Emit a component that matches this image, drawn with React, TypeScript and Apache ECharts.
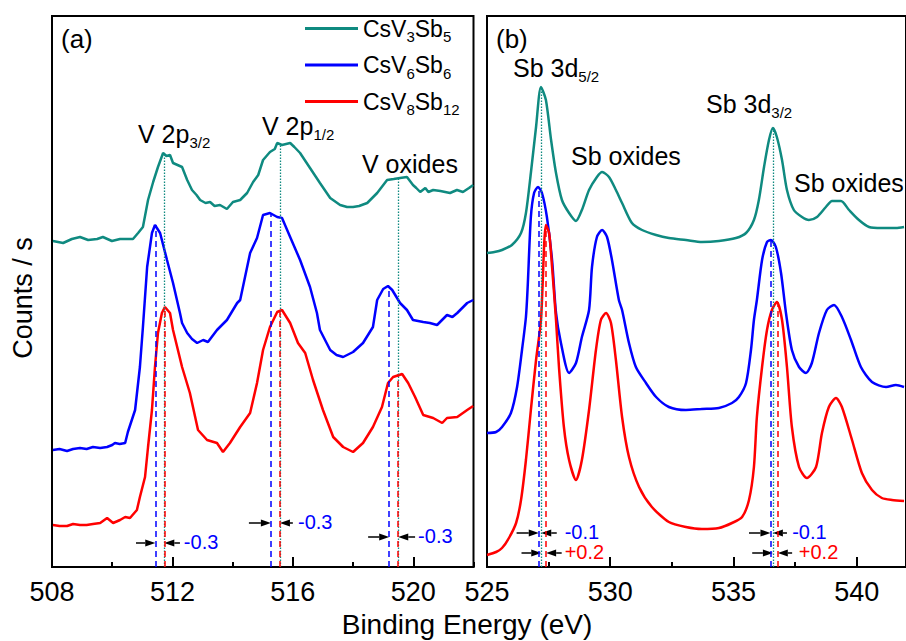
import React, { useEffect, useRef } from 'react';
import * as echarts from 'echarts';

const FONT = '"Liberation Sans", Arial, Helvetica, sans-serif';
const TEAL = '#0f8a80';
const BLUE = '#0000ff';
const RED = '#ff0000';

const SERIES_NAMES = ['CsV3Sb5', 'CsV6Sb6', 'CsV8Sb12'];
const SERIES_COLORS = [TEAL, BLUE, RED];

// Panel (a): V 2p region, [binding energy (eV), counts (arb.)]
const aTeal: number[][] = [
  [508.03, 326], [508.37, 324], [508.66, 328], [508.93, 330], [509.2, 327], [509.5, 328], [509.69, 330], [509.99, 326],
  [510.26, 328], [510.49, 328], [510.69, 328], [510.86, 334], [511.02, 340], [511.19, 367], [511.36, 385], [511.52, 400],
  [511.69, 414], [511.8, 411], [511.92, 412], [512.02, 404], [512.32, 400], [512.49, 387], [512.65, 377], [512.8, 372],
  [512.92, 367], [513.1, 364], [513.25, 365], [513.4, 361], [513.58, 362], [513.81, 358], [514.01, 365], [514.25, 367],
  [514.48, 374], [514.68, 385], [514.85, 392], [515.01, 407], [515.24, 415], [515.4, 418], [515.48, 424], [515.64, 422],
  [515.91, 424], [516.05, 420], [516.24, 414], [516.57, 399], [516.9, 384], [517.24, 369], [517.57, 362], [517.8, 360],
  [518.0, 360], [518.2, 361], [518.47, 364], [518.8, 374], [519.13, 387], [519.35, 388], [519.56, 389], [519.79, 390],
  [519.99, 382], [520.1, 379], [520.23, 375], [520.4, 379], [520.5, 375], [520.66, 377], [520.9, 376], [521.22, 374],
  [521.45, 377], [521.65, 375], [521.85, 379], [521.99, 382],
];
const aBlue: number[][] = [
  [508.03, 117], [508.25, 118], [508.5, 116], [508.7, 118], [508.93, 119], [509.15, 118], [509.36, 120], [509.6, 119],
  [509.83, 120], [510.0, 122], [510.09, 124], [510.25, 123], [510.43, 124], [510.52, 135], [510.76, 157], [510.92, 200],
  [511.02, 240], [511.16, 300], [511.32, 334], [511.42, 342], [511.59, 334], [511.82, 307], [512.02, 284], [512.25, 254],
  [512.32, 244], [512.49, 234], [512.65, 228], [512.82, 224], [513.02, 227], [513.18, 225], [513.48, 237], [513.81, 247],
  [514.15, 264], [514.25, 267], [514.58, 314], [514.81, 329], [515.01, 352], [515.24, 354], [515.48, 350], [515.64, 349],
  [515.91, 330], [516.24, 307], [516.57, 280], [516.8, 254], [516.9, 237], [517.24, 217], [517.45, 212], [517.67, 210],
  [518.0, 215], [518.33, 224], [518.66, 240], [518.8, 267], [519.0, 278], [519.16, 281], [519.3, 277], [519.56, 264],
  [519.79, 257], [519.99, 247], [520.33, 245], [520.55, 244], [520.79, 242], [521.12, 252], [521.3, 250], [521.46, 254],
  [521.79, 264], [521.99, 267],
];
const aRed: number[][] = [
  [508.03, 42], [508.25, 41], [508.5, 41], [508.7, 43], [508.93, 42], [509.15, 42], [509.36, 43], [509.6, 44],
  [509.83, 49], [510.03, 44], [510.26, 47], [510.43, 50], [510.59, 49], [510.82, 57], [510.92, 70], [511.09, 90],
  [511.19, 120], [511.32, 157], [511.42, 200], [511.52, 234], [511.65, 254], [511.75, 260], [511.92, 254], [512.02, 237],
  [512.32, 200], [512.58, 174], [512.85, 137], [513.15, 127], [513.48, 124], [513.68, 115], [513.91, 124], [514.25, 140],
  [514.58, 154], [514.81, 184], [515.01, 217], [515.24, 240], [515.48, 255], [515.64, 257], [515.91, 244], [516.17, 224],
  [516.41, 214], [516.67, 187], [517.0, 157], [517.34, 130], [517.67, 120], [518.0, 115], [518.33, 124], [518.66, 140],
  [518.96, 160], [519.16, 184], [519.33, 190], [519.63, 193], [519.83, 184], [520.06, 170], [520.33, 152], [520.66, 149],
  [520.96, 144], [521.12, 149], [521.46, 150], [521.79, 157], [521.99, 161],
];

// Panel (b): Sb 3d region
const bTeal: number[][] = [
  [525.0, 314], [525.3, 315], [525.61, 317], [526.01, 322], [526.38, 334], [526.58, 354], [526.78, 394], [526.99, 440],
  [527.19, 480], [527.39, 467], [527.6, 427], [527.8, 394], [528.04, 367], [528.33, 354], [528.61, 346], [528.85, 357],
  [529.14, 377], [529.46, 390], [529.67, 395], [529.95, 390], [530.23, 377], [530.48, 364], [530.88, 344], [531.29, 337],
  [531.86, 332], [532.38, 329], [533.07, 327], [533.72, 325], [534.41, 326], [535.1, 329], [535.51, 334], [535.83, 347],
  [536.03, 367], [536.24, 400], [536.44, 427], [536.6, 439], [536.76, 430], [536.97, 407], [537.17, 377], [537.45, 357],
  [537.78, 350], [538.06, 347], [538.39, 350], [538.75, 360], [539.0, 366], [539.36, 366], [539.69, 357], [540.09, 347],
  [540.5, 340], [541.02, 339], [541.59, 339], [541.92, 340],
];
const bBlue: number[][] = [
  [525.0, 134], [525.37, 135], [525.61, 140], [525.97, 154], [526.22, 180], [526.42, 217], [526.58, 250], [526.65, 280],
  [526.78, 350], [526.91, 374], [527.07, 380], [527.23, 374], [527.43, 350], [527.64, 307], [527.8, 254], [528.0, 224],
  [528.33, 194], [528.61, 204], [528.85, 230], [529.14, 257], [529.26, 300], [529.46, 330], [529.67, 337], [529.87, 330],
  [530.07, 307], [530.35, 267], [530.48, 257], [530.76, 224], [531.04, 200], [531.45, 184], [531.86, 170], [532.38, 160],
  [533.07, 157], [533.72, 158], [534.41, 159], [534.94, 164], [535.22, 170], [535.51, 184], [535.71, 217], [535.83, 247],
  [535.95, 267], [536.16, 307], [536.36, 325], [536.52, 327], [536.72, 320], [536.93, 294], [537.13, 254], [537.37, 217],
  [537.66, 200], [537.94, 194], [538.18, 204], [538.47, 234], [538.79, 257], [539.08, 262], [539.4, 250], [539.77, 227],
  [540.17, 200], [540.62, 185], [541.19, 180], [541.59, 182], [541.92, 180],
];
const bRed: number[][] = [
  [525.0, 12], [525.37, 15], [525.61, 19], [525.89, 29], [526.18, 44], [526.38, 67], [526.58, 107], [526.78, 157],
  [526.99, 207], [527.19, 247], [527.39, 342], [527.52, 334], [527.64, 300], [527.8, 247], [527.92, 200], [528.12, 140],
  [528.33, 107], [528.61, 87], [528.85, 107], [529.14, 157], [529.42, 217], [529.62, 247], [529.83, 254], [530.03, 244],
  [530.23, 207], [530.48, 150], [530.76, 110], [531.17, 80], [531.69, 60], [532.38, 45], [533.07, 40], [533.72, 38],
  [534.41, 39], [534.94, 44], [535.35, 50], [535.63, 67], [535.83, 100], [535.95, 150], [536.16, 200], [536.36, 237],
  [536.56, 257], [536.76, 265], [536.97, 247], [537.17, 200], [537.37, 140], [537.66, 100], [537.98, 89], [538.35, 100],
  [538.59, 134], [538.87, 160], [539.16, 169], [539.4, 160], [539.81, 127], [540.21, 94], [540.62, 77], [541.02, 69],
  [541.43, 67], [541.92, 66],
];

// Peak-position guide lines: energies and the counts where each line starts
const aTealPeaks = [511.73, 515.57, 519.5];
const aTealTops = [414, 422, 389];
const aBluePeaks = [511.43, 515.27, 519.2];
const aBlueTops = [342, 354, 281];
const aRedPeaks = [511.73, 515.57, 519.5];
const aRedTops = [260, 257, 193];
const bTealPeaks = [527.2, 536.6];
const bTealTops = [480, 439];
const bBluePeaks = [527.1, 536.5];
const bBlueTops = [380, 327];
const bRedPeaks = [527.4, 536.8];
const bRedTops = [342, 265];

// Shift arrows: [y, left tail, left tip, right tip, right tail, label x]
const aShiftRows: number[][] = [
  [24, 510.79, 511.43, 511.73, 512.25, 512.38],
  [44, 514.54, 515.27, 515.57, 516.0, 516.17],
  [30, 518.5, 519.2, 519.5, 520.06, 520.16],
];
const aShiftLabels = ['-0.3', '-0.3', '-0.3'];
const aShiftColors = [BLUE, BLUE, BLUE];
const bShiftRows: number[][] = [
  [34, 526.2, 527.1, 527.2, 527.83, 528.15],
  [14, 526.4, 527.2, 527.4, 528.03, 528.15],
  [34, 535.63, 536.5, 536.6, 537.17, 537.38],
  [14, 535.76, 536.6, 536.8, 537.38, 537.65],
];
const bShiftLabels = ['-0.1', '+0.2', '-0.1', '+0.2'];
const bShiftColors = [BLUE, RED, BLUE, RED];

const aTicks = { min: 508, max: 522, major: 4, minor: 2 };
const bTicks = { min: 525, max: 542, major: 5, minor: 2.5 };

function subRich(name: string): string {
  const parts = name.match(/(\d+|\D+)/g) || [];
  return parts.map((p) => (/^\d+$/.test(p) ? `{s|${p}}` : `{m|${p}}`)).join('');
}

function guideLines(peaks: number[], tops: number[], color: string, dotted: boolean) {
  return {
    silent: true,
    symbol: 'none',
    animation: false,
    label: { show: false },
    emphasis: { disabled: true },
    lineStyle: dotted
      ? { color, type: [1.5, 1.5], width: 1.3 }
      : { color, type: [6, 4], width: 1.5 },
    data: peaks.map((e, i) => [{ coord: [e, 0] }, { coord: [e, tops[i]] }]),
  };
}

function lineSeries(name: string, color: string, data: number[][], xi: number, yi: number, ml: any, smooth: number) {
  return {
    type: 'line',
    name,
    xAxisIndex: xi,
    yAxisIndex: yi,
    data,
    showSymbol: false,
    symbol: 'none',
    smooth,
    lineStyle: { color, width: 2.5 },
    itemStyle: { color },
    markLine: ml,
    silent: true,
  };
}

function arrow(tail: number[], tip: number[]) {
  const dir = Math.sign(tip[0] - tail[0]);
  const hl = 10;
  const hw = 3.6;
  const base = tip[0] - dir * hl;
  return [
    { type: 'line', shape: { x1: tail[0], y1: tail[1], x2: base, y2: tip[1] }, style: { stroke: '#000', lineWidth: 1.5 } },
    { type: 'polygon', shape: { points: [[tip[0], tip[1]], [base, tip[1] - hw], [base, tip[1] + hw]] }, style: { fill: '#000' } },
  ];
}

function shiftSeries(rows: number[][], labels: string[], colors: string[], xi: number, yi: number) {
  return {
    type: 'custom',
    xAxisIndex: xi,
    yAxisIndex: yi,
    silent: true,
    data: rows,
    renderItem: (params: any, api: any) => {
      const idx = params.dataIndex;
      const y = api.value(0);
      const lt = api.coord([api.value(1), y]);
      const lp = api.coord([api.value(2), y]);
      const rp = api.coord([api.value(3), y]);
      const rt = api.coord([api.value(4), y]);
      const lx = api.coord([api.value(5), y]);
      return {
        type: 'group',
        children: [
          ...arrow(lt, lp),
          ...arrow(rt, rp),
          {
            type: 'text',
            x: lx[0],
            y: lx[1] - 1,
            style: { text: labels[idx], fill: colors[idx], fontSize: 20, fontFamily: FONT, align: 'left', verticalAlign: 'middle' },
          },
        ],
      };
    },
  };
}

function xAxes(gridIndex: number, t: { min: number; max: number; major: number; minor: number }) {
  return [
    {
      type: 'value',
      gridIndex,
      min: t.min,
      max: t.max,
      interval: t.major,
      position: 'bottom',
      axisLine: { show: true, lineStyle: { color: '#000', width: 2 } },
      axisTick: { show: true, inside: true, length: 10, lineStyle: { color: '#000', width: 2 } },
      axisLabel: { show: true, color: '#000', fontSize: 27, fontFamily: FONT, margin: 11, showMaxLabel: false },
      splitLine: { show: false },
    },
    {
      type: 'value',
      gridIndex,
      min: t.min,
      max: t.max,
      interval: t.minor,
      position: 'bottom',
      axisLine: { show: false },
      axisTick: { show: true, inside: true, length: 5, lineStyle: { color: '#000', width: 2 } },
      axisLabel: { show: false },
      splitLine: { show: false },
    },
  ];
}

const annRich = {
  m: { fontSize: 25, lineHeight: 32, fontFamily: FONT, color: '#000' },
  s: { fontSize: 15, lineHeight: 8, fontFamily: FONT, color: '#000', verticalAlign: 'bottom' },
};

function richText(x: number, y: number, text: string) {
  return { type: 'text', x, y, silent: true, style: { text, rich: annRich, fill: '#000', verticalAlign: 'top', align: 'left' } };
}
function plainText(x: number, y: number, text: string, size: number, extra: any = {}) {
  return {
    type: 'text', x, y, silent: true,
    style: { text, fill: '#000', fontSize: size, fontFamily: FONT, align: 'left', verticalAlign: 'middle', ...extra.style },
    ...extra.el,
  };
}

export default function App() {
  const ref = useRef<HTMLDivElement>(null);
  useEffect(() => {
    if (!ref.current) return;
    const chart = echarts.init(ref.current, undefined, { renderer: 'svg' });
    const option: any = {
      animation: false,
      backgroundColor: '#ffffff',
      textStyle: { fontFamily: FONT },
      legend: {
        data: SERIES_NAMES.map((name) => ({ name, icon: 'rect' })),
        orient: 'vertical',
        left: 305,
        top: 17,
        padding: 0,
        itemWidth: 53,
        itemHeight: 3,
        itemGap: 9.5,
        selectedMode: false,
        formatter: (n: string) => subRich(n),
        textStyle: {
          color: '#000',
          fontFamily: FONT,
          rich: {
            m: { fontSize: 23, lineHeight: 31, fontFamily: FONT, color: '#000' },
            s: { fontSize: 15, lineHeight: 1, fontFamily: FONT, color: '#000', verticalAlign: 'bottom' },
          },
        },
      },
      grid: [
        { left: 52, top: 16, width: 421.5, height: 551, show: true, borderColor: '#000', borderWidth: 2, backgroundColor: 'transparent' },
        { left: 487, top: 16, width: 420.8, height: 551, show: true, borderColor: '#000', borderWidth: 2, backgroundColor: 'transparent' },
      ],
      xAxis: [...xAxes(0, aTicks), ...xAxes(1, bTicks)],
      yAxis: [
        { type: 'value', gridIndex: 0, min: 0, max: 551, show: false },
        { type: 'value', gridIndex: 1, min: 0, max: 551, show: false },
      ],
      series: [
        lineSeries(SERIES_NAMES[0], SERIES_COLORS[0], aTeal, 0, 0, guideLines(aTealPeaks, aTealTops, TEAL, true), 0),
        lineSeries(SERIES_NAMES[1], SERIES_COLORS[1], aBlue, 0, 0, guideLines(aBluePeaks, aBlueTops, BLUE, false), 0),
        lineSeries(SERIES_NAMES[2], SERIES_COLORS[2], aRed, 0, 0, guideLines(aRedPeaks, aRedTops, RED, false), 0),
        lineSeries(SERIES_NAMES[0], SERIES_COLORS[0], bTeal, 2, 1, guideLines(bTealPeaks, bTealTops, TEAL, true), 0.25),
        lineSeries(SERIES_NAMES[1], SERIES_COLORS[1], bBlue, 2, 1, guideLines(bBluePeaks, bBlueTops, BLUE, false), 0.25),
        lineSeries(SERIES_NAMES[2], SERIES_COLORS[2], bRed, 2, 1, guideLines(bRedPeaks, bRedTops, RED, false), 0.25),
        shiftSeries(aShiftRows, aShiftLabels, aShiftColors, 0, 0),
        shiftSeries(bShiftRows, bShiftLabels, bShiftColors, 2, 1),
      ],
      graphic: [
        plainText(61, 39, '(a)', 26),
        plainText(496, 39, '(b)', 26),
        richText(138, 118.3, '{m|V 2p}{s|3/2}'),
        richText(262, 110.3, '{m|V 2p}{s|1/2}'),
        plainText(362, 164.3, 'V oxides', 25),
        richText(513, 52.3, '{m|Sb 3d}{s|5/2}'),
        plainText(571, 156.3, 'Sb oxides', 25),
        richText(706, 88.3, '{m|Sb 3d}{s|3/2}'),
        plainText(794, 183.3, 'Sb oxides', 25),
        plainText(23, 298, 'Counts / s', 27, { style: { align: 'center' }, el: { rotation: Math.PI / 2 } }),
        plainText(467, 624, 'Binding Energy (eV)', 28, { style: { align: 'center' } }),
      ],
    };
    chart.setOption(option);
    return () => chart.dispose();
  }, []);
  return <div ref={ref} style={{ position: 'fixed', left: 0, top: 0, width: 906, height: 641, background: '#fff' }} />;
}
